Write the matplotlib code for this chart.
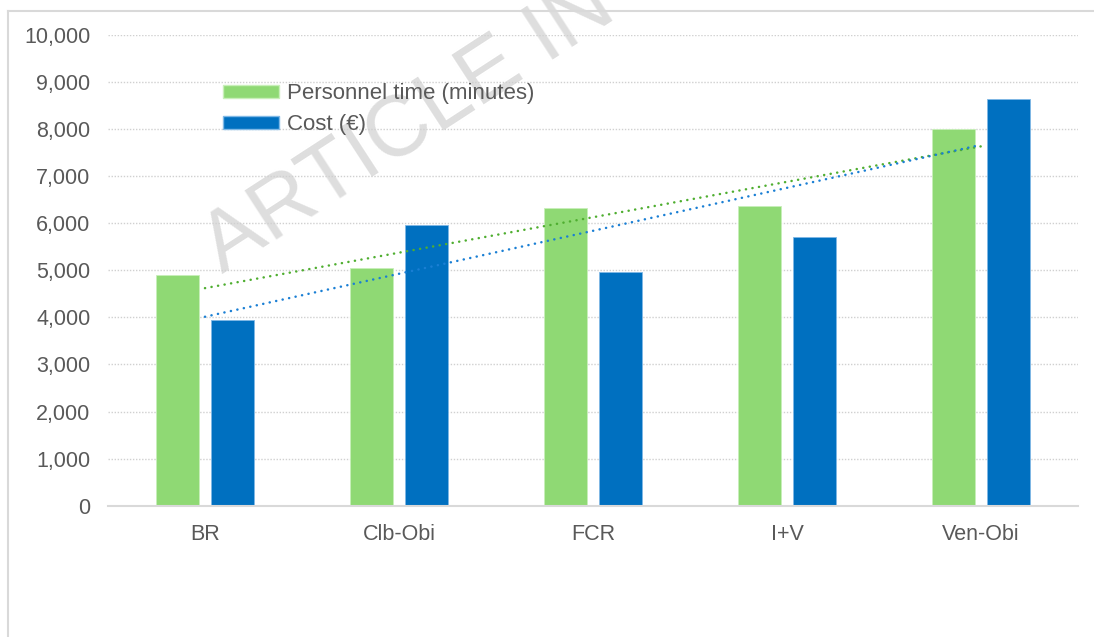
import numpy as np
import matplotlib.pyplot as plt
from matplotlib.patches import Patch
from matplotlib.ticker import FuncFormatter

plt.rcParams['font.family'] = ['Liberation Sans', 'DejaVu Sans']

# Data
categories = ['BR', 'Clb-Obi', 'FCR', 'I+V', 'Ven-Obi']
personnel_time = [4900, 5040, 6330, 6370, 8000]
cost = [3940, 5960, 4960, 5710, 8630]
y_ticks = [0, 1000, 2000, 3000, 4000, 5000, 6000, 7000, 8000, 9000, 10000]

green = '#8fd974'
blue = '#0070c0'
grey_text = '#595959'

fig = plt.figure(figsize=(10.94, 6.37), dpi=100)
ax = fig.add_axes([0.0987, 0.2061, 0.8867, 0.739])
ax.patch.set_visible(False)

x = np.arange(len(categories))
w = 0.22
ax.bar(x - 0.142, personnel_time, w, color=green, edgecolor='#c8efb9', linewidth=0.6, zorder=3)
ax.bar(x + 0.142, cost, w, color=blue, edgecolor='#7fb8e6', linewidth=0.6, zorder=3)

# linear trendlines (as Excel does)
for vals, col in [(personnel_time, '#4fae30'), (cost, '#1a7fd4')]:
    k, b = np.polyfit(x, vals, 1)
    ax.plot(x, k * x + b, color=col, lw=1.8, linestyle=(0, (0.05, 2.6)),
            dash_capstyle='round', zorder=4)

ax.set_xlim(-0.5, 4.5)
ax.set_ylim(0, 10000)
ax.set_yticks(y_ticks)
ax.yaxis.set_major_formatter(FuncFormatter(lambda v, p: f'{int(v):,}'))
ax.set_xticks(x)
ax.set_xticklabels(categories)
ax.tick_params(axis='both', length=0, labelsize=15.5, colors=grey_text)
ax.tick_params(axis='y', pad=12.5)
ax.tick_params(axis='x', pad=13)

ax.grid(axis='y', color='#d0d0d0', lw=1.0, linestyle=(0, (1, 1.2)), zorder=0)
for s in ['top', 'right', 'left']:
    ax.spines[s].set_visible(False)
ax.spines['bottom'].set_color('#d9d9d9')
ax.spines['bottom'].set_linewidth(1.5)
ax.spines['bottom'].set_zorder(5)

handles = [Patch(facecolor=green, edgecolor='#c8efb9'), Patch(facecolor=blue, edgecolor='#7fb8e6')]
ax.legend(handles, ['Personnel time (minutes)', 'Cost (€)'], loc='upper left',
          bbox_to_anchor=(0.098, 0.94), frameon=False, fontsize=16,
          labelcolor=grey_text, handlelength=2.5, handleheight=0.5,
          handletextpad=0.36, labelspacing=0.45)

# watermark
fig.text(222 / 1094, 1 - 274 / 637, 'ARTICLE IN', fontsize=62, color='#dedede',
         rotation=33, ha='left', va='baseline', rotation_mode='anchor', zorder=-1)

# chart border (top and left edges visible)
fig.add_artist(plt.Line2D([8 / 1094, 1], [1 - 11 / 637] * 2, color='#d9d9d9', lw=1.5,
                          transform=fig.transFigure))
fig.add_artist(plt.Line2D([8 / 1094] * 2, [0, 1 - 11 / 637], color='#d9d9d9', lw=1.5,
                          transform=fig.transFigure))

fig.savefig('out.png', dpi=100)
